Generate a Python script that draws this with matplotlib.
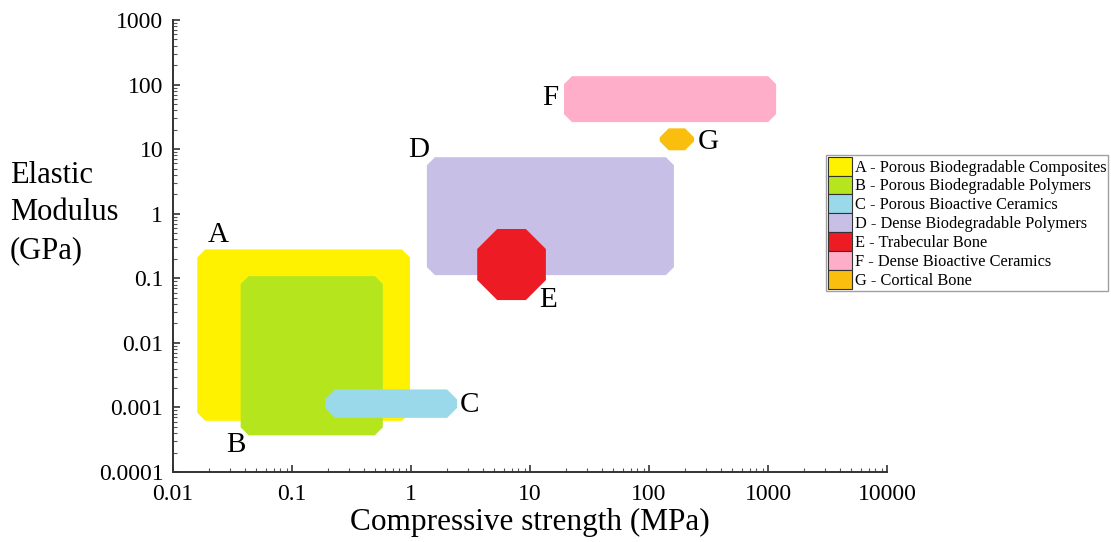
import matplotlib
matplotlib.use("Agg")
import matplotlib.pyplot as plt
from matplotlib.patches import Polygon, Patch
from matplotlib.ticker import LogLocator, FuncFormatter, NullFormatter
import numpy as np

plt.rcParams['font.family'] = ['Liberation Serif', 'DejaVu Serif']

# ---------------- data (ranges) ----------------
letters = ["A", "B", "C", "D", "E", "F", "G"]
names = ["Porous Biodegradable Composites", "Porous Biodegradable Polymers",
         "Porous Bioactive Ceramics", "Dense Biodegradable Polymers",
         "Trabecular Bone", "Dense Bioactive Ceramics", "Cortical Bone"]
strength_lo = [0.016, 0.037, 0.19, 1.36, 3.6, 19.3, 123]     # MPa
strength_hi = [0.98, 0.58, 2.44, 162, 13.6, 1170, 239]
modulus_lo = [0.00062, 0.00037, 0.00069, 0.112, 0.046, 26.2, 9.6]   # GPa
modulus_hi = [0.28, 0.108, 0.0019, 7.5, 0.58, 135, 21]
colors = ["#FFF200", "#B5E61D", "#99D9EA", "#C8BFE7", "#ED1C24", "#FFAEC9", "#F9BE0E"]

# letter label positions
label_x = [0.024, 0.034, 3.1, 1.15, 14.1, 14.7, 313]
label_y = [0.47, 0.00026, 0.00109, 9.6, 0.046, 62, 12.8]

# size of the cut corners, in pixels
corner_px = [8, 8, 10, 8, 20, 8, 9]


def cut_box(x0, x1, y0, y1, cx, cy):
    # rectangle in log space with chamfered corners
    lx0, lx1, ly0, ly1 = np.log10([x0, x1, y0, y1])
    cy = min(cy, (ly1 - ly0) / 2)
    cx = min(cx, (lx1 - lx0) / 2)
    pts = [(lx0 + cx, ly0), (lx1 - cx, ly0), (lx1, ly0 + cy), (lx1, ly1 - cy),
           (lx1 - cx, ly1), (lx0 + cx, ly1), (lx0, ly1 - cy), (lx0, ly0 + cy)]
    return 10 ** np.array(pts)


fig = plt.figure(figsize=(11.11, 5.42), dpi=100)
ax = fig.add_axes([173 / 1111, 70 / 542, 714 / 1111, 452 / 542])
ax.set_xscale("log")
ax.set_yscale("log")
ax.set_xlim(0.01, 10000)
ax.set_ylim(0.0001, 1000)

# pixels per decade, to turn corner sizes into log units
px_x = ax.bbox.width / 6
px_y = ax.bbox.height / 7

for i in range(len(letters)):
    verts = cut_box(strength_lo[i], strength_hi[i], modulus_lo[i], modulus_hi[i],
                    corner_px[i] / px_x, corner_px[i] / px_y)
    ax.add_patch(Polygon(verts, closed=True, facecolor=colors[i], edgecolor="none"))
    ax.text(label_x[i], label_y[i], letters[i], fontsize=21, ha="center", va="center")

for s in ["top", "right"]:
    ax.spines[s].set_visible(False)
for s in ["left", "bottom"]:
    ax.spines[s].set_linewidth(1.4)
    ax.spines[s].set_color("#333333")

for axis in [ax.xaxis, ax.yaxis]:
    axis.set_major_locator(LogLocator(base=10, numticks=20))
    axis.set_minor_locator(LogLocator(base=10, subs=np.arange(2, 10), numticks=20))
    axis.set_major_formatter(FuncFormatter(lambda v, p: "%g" % v))
    axis.set_minor_formatter(NullFormatter())
ax.tick_params(which="major", direction="in", length=5, width=1.2, labelsize=17,
               color="#333333")
ax.tick_params(which="minor", direction="in", length=3, width=0.8, color="#555555")
ax.tick_params(axis="x", pad=9)
ax.tick_params(axis="y", pad=7)

ax.set_xlabel("Compressive strength (MPa)", fontsize=22.5, va="baseline")
ax.xaxis.set_label_coords(0.5, -58 / 452)
fig.text(10 / 1111, 1 - 213 / 542, "Elastic\nModulus\n(GPa)", fontsize=22,
         ha="left", va="center", linespacing=1.38)

handles = [Patch(facecolor=c, edgecolor="#333333", linewidth=0.8) for c in colors]
labels = ["%s - %s" % (l, n) for l, n in zip(letters, names)]
fig.legend(handles, labels, loc="upper left", bbox_to_anchor=(826 / 1111, 1 - 155 / 542),
           fontsize=11.8, frameon=True, fancybox=False, edgecolor="#888888",
           borderpad=0.1, labelspacing=0.0, handlelength=1.5, handleheight=1.4,
           handletextpad=0.15, borderaxespad=0)

fig.savefig("out.png", dpi=100)
